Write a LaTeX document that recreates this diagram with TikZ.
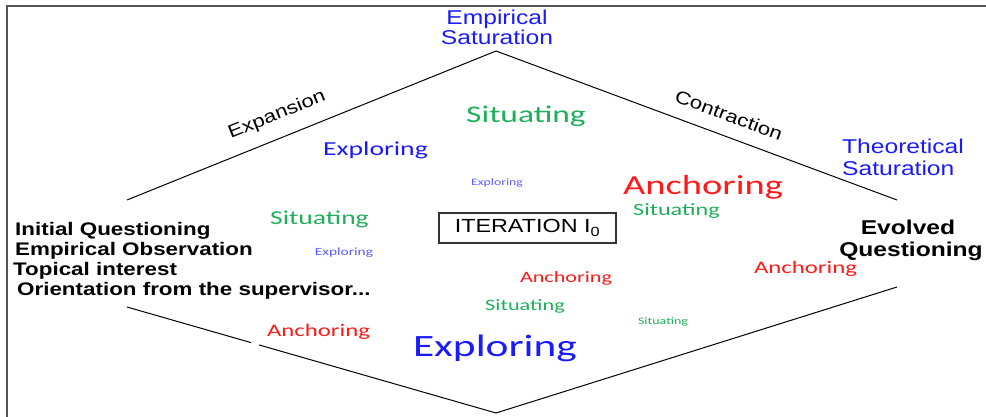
\documentclass[tikz,border=0pt]{standalone}
\usepackage{fontspec}
\setmainfont{Liberation Sans}[FakeStretch=1.23]
\newfontfamily\calfont{Carlito}[FakeStretch=1.4]
\newcommand{\fsz}[1]{\fontsize{#1}{#1}\selectfont}
\usetikzlibrary{calc}
\definecolor{myblue}{HTML}{1A1AFF}
\definecolor{lightblue}{HTML}{5C5CFF}
\definecolor{mygreen}{HTML}{1FAE5A}
\definecolor{myred}{HTML}{FF1A1A}
\definecolor{framegray}{HTML}{555555}
\begin{document}
\begin{tikzpicture}[x=1pt,y=-1pt,
  edge/.style={draw=black, line width=1pt},
  frameline/.style={draw=framegray, line width=2pt},
  explo/.style={inner sep=0pt, text=myblue, font=\calfont\fsz{#1}},
  explotiny/.style={inner sep=0pt, text=lightblue, font=\calfont\fsz{#1}},
  situ/.style={inner sep=0pt, text=mygreen, font=\calfont\fsz{#1}},
  anch/.style={inner sep=0pt, text=myred, font=\calfont\fsz{#1}},
  sat/.style={inner sep=0pt, text=myblue, font=\fsz{20}},
  sidelabel/.style={inner sep=0pt, text=black, font=\fsz{18}},
  bold/.style={inner sep=0pt, text=black, font=\bfseries\fsz{#1}},
  iterbox/.style={draw=black!80, line width=1.3pt, minimum width=177pt, minimum height=30pt, inner sep=0pt, font=\fsz{19}}
]
\useasboundingbox (0,0) rectangle (986,417);
% frame
\draw[frameline] (7,417) -- (7,6) -- (986,6);
% diamond vertices
\coordinate (L1) at (127,200);
\coordinate (T) at (496,51);
\coordinate (R1) at (897,200);
\coordinate (R2) at (897,287);
\coordinate (B) at (496,413);
\coordinate (L2) at (127,307);
\coordinate (g1) at ($(L2)!0.336!(B)$);
\coordinate (g2) at ($(L2)!0.358!(B)$);
\draw[edge] (L1) -- (T) -- (R1);
\draw[edge] (R2) -- (B) -- (g2);
\draw[edge] (g1) -- (L2);
% side labels
\node[sidelabel, rotate=22] (expansion) at (277,115) {Expansion};
\node[sidelabel, rotate=-20.5] (contraction) at (729,115) {Contraction};
% saturations
\node[sat, anchor=base] (emp1) at (497,25) {Empirical};
\node[sat, anchor=base] (emp2) at (497,45) {Saturation};
\node[sat, anchor=base west] (theo1) at (842,154) {Theoretical};
\node[sat, anchor=base west] (theo2) at (842,176) {Saturation};
% left block
\node[bold=18.2, anchor=base west] (init1) at (15,235) {Initial Questioning};
\node[bold=18.2, anchor=base west] (init2) at (15,255) {Empirical Observation};
\node[bold=18.2, anchor=base west] (init3) at (13,275) {Topical interest};
\node[bold=18.2, anchor=base west] (init4) at (17,295) {Orientation from the supervisor...};
% right block
\node[bold=20, anchor=base] (evo1) at (908,234) {Evolved};
\node[bold=20, anchor=base] (evo2) at (911,256) {Questioning};
% iteration box
\node[iterbox] (iter) at (527.5,228) {ITERATION I\textsubscript{0}};
% scattered words
\node[explo=19.8] (ex1) at (375.5,150) {Exploring};
\node[situ=23.9] (si1) at (526,116.5) {Situating};
\node[explotiny=9.8] (ex2) at (497,183) {Exploring};
\node[anch=27.5] (an1) at (703,187) {Anchoring};
\node[situ=17.3] (si2) at (676.5,211.5) {Situating};
\node[situ=19.7] (si3) at (319.5,219) {Situating};
\node[explotiny=11] (ex3) at (344,253) {Exploring};
\node[anch=15.8] (an2) at (566,278.5) {Anchoring};
\node[situ=15.9] (si4) at (525,306.5) {Situating};
\node[situ=10] (si5) at (663,321.5) {Situating};
\node[explo=31] (ex4) at (495,348) {Exploring};
\node[anch=17.7] (an3) at (318.5,331.5) {Anchoring};
\node[anch=17.7] (an4) at (805.5,269) {Anchoring};
\end{tikzpicture}
\end{document}
